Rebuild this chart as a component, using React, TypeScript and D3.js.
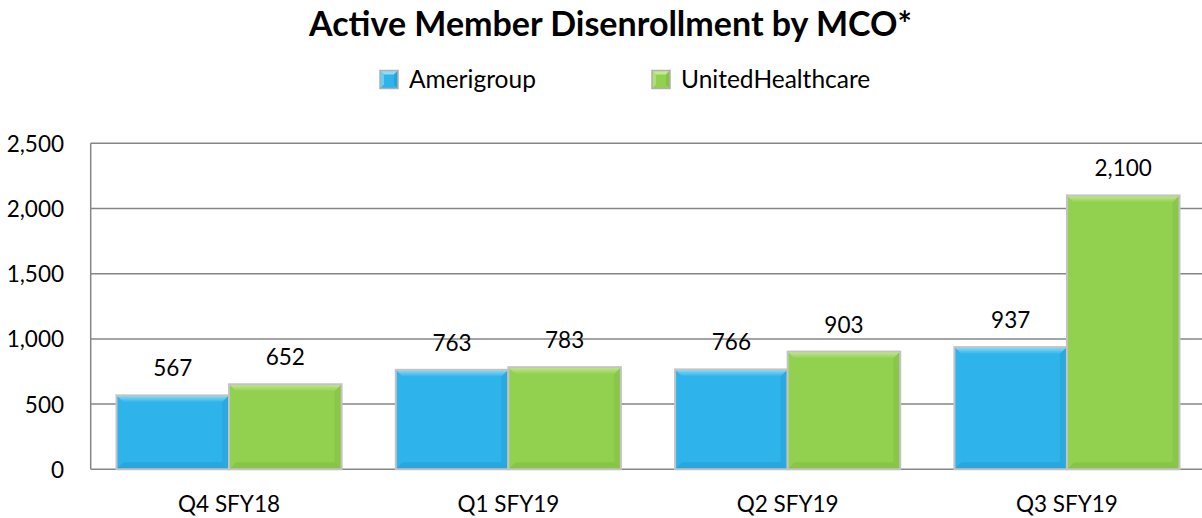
import React from "react";
import * as d3 from "d3";

const categories = ["Q4 SFY18", "Q1 SFY19", "Q2 SFY19", "Q3 SFY19"];
const seriesNames = ["Amerigroup", "UnitedHealthcare"];
const amerigroup = [567, 763, 766, 937];
const unitedHealthcare = [652, 783, 903, 2100];
const yTicks = [0, 500, 1000, 1500, 2000, 2500];

const W = 1202;
const H = 518;
const FONT = "Lato, 'Open Sans', sans-serif";

const colors = [
  { base: "#2eb3eb", light: "#8fdcf8", dark: "#2299cc" },
  { base: "#92d050", light: "#c4ea8e", dark: "#7bb83c" },
];

export default function App() {
  const plotLeft = 90.7;
  const y = d3.scaleLinear().domain([0, 2500]).range([469.3, 143.3]);
  const x0 = d3
    .scaleBand<string>()
    .domain(categories)
    .range([89.4, 89.4 + 279.3 * 4])
    .paddingInner(0.194)
    .paddingOuter(0.097);
  const x1 = d3
    .scaleBand<string>()
    .domain(seriesNames)
    .range([0, x0.bandwidth()])
    .padding(0);
  const fmt = d3.format(",");
  const values = [amerigroup, unitedHealthcare];

  const bevel = 7;

  return (
    <svg
      width={W}
      height={H}
      style={{ position: "absolute", left: 0, top: 0, background: "#fff" }}
      fontFamily={FONT}
    >
      <defs>
        {colors.map((c, i) => (
          <React.Fragment key={i}>
            <linearGradient id={`top${i}`} x1="0" y1="0" x2="0" y2="1">
              <stop offset="0" stopColor={c.light} />
              <stop offset="1" stopColor={c.base} />
            </linearGradient>
          </React.Fragment>
        ))}
      </defs>

      <text
        x={610.5}
        y={35.5}
        textAnchor="middle"
        fontWeight="bold"
        fontSize={34}
        fill="#000"
      >
        Active Member Disenrollment by MCO*
      </text>

      {/* legend */}
      {seriesNames.map((s, i) => {
        const lx = [380, 652][i];
        const ly = 70.5;
        const m = 18;
        const b = 4;
        const col = colors[i];
        return (
          <g key={s}>
            <rect x={lx} y={ly} width={m} height={m} fill={col.base} />
            <polygon
              points={`${lx},${ly} ${lx + m},${ly} ${lx + m - b},${ly + b} ${lx + b},${ly + b}`}
              fill={col.light}
            />
            <polygon
              points={`${lx},${ly} ${lx + b},${ly + b} ${lx + b},${ly + m - b} ${lx},${ly + m}`}
              fill={col.light}
              opacity={0.6}
            />
            <polygon
              points={`${lx + m},${ly} ${lx + m},${ly + m} ${lx + m - b},${ly + m - b} ${lx + m - b},${ly + b}`}
              fill={col.dark}
              opacity={0.6}
            />
            <rect
              x={lx}
              y={ly}
              width={m}
              height={m}
              fill="none"
              stroke="#b0b0b0"
              strokeWidth={1.5}
            />
            <text x={lx + 29} y={88} fontSize={24.5} fill="#000">
              {s}
            </text>
          </g>
        );
      })}

      {/* grid */}
      {yTicks.map((t) => (
        <g key={t}>
          <line
            x1={plotLeft}
            x2={W}
            y1={y(t)}
            y2={y(t)}
            stroke="#868686"
            strokeWidth={1.5}
          />
          <text
            x={64}
            y={y(t) + 8.4}
            textAnchor="end"
            fontSize={22.5}
            fill="#000"
          >
            {fmt(t)}
          </text>
        </g>
      ))}
      <line
        x1={plotLeft}
        x2={plotLeft}
        y1={y(2500)}
        y2={y(0)}
        stroke="#868686"
        strokeWidth={1.5}
      />

      {/* bars */}
      {categories.map((c, ci) => (
        <g key={c} transform={`translate(${x0(c)},0)`}>
          {seriesNames.map((s, si) => {
            const v = values[si][ci];
            const bx = x1(s)!;
            const bw = x1.bandwidth();
            const top = y(v);
            const bot = y(0);
            const col = colors[si];
            return (
              <g key={s}>
                <rect
                  x={bx}
                  y={top}
                  width={bw}
                  height={bot - top}
                  fill={col.base}
                />
                <polygon
                  points={`${bx},${top} ${bx + bw},${top} ${bx + bw - bevel},${top + bevel} ${bx + bevel},${top + bevel}`}
                  fill={`url(#top${si})`}
                />
                <polygon
                  points={`${bx + bw},${top} ${bx + bw},${bot} ${bx + bw - bevel},${bot - bevel} ${bx + bw - bevel},${top + bevel}`}
                  fill={col.dark}
                  opacity={0.35}
                />
                <polygon
                  points={`${bx},${bot} ${bx + bw},${bot} ${bx + bw - bevel},${bot - bevel} ${bx + bevel},${bot - bevel}`}
                  fill={col.dark}
                  opacity={0.45}
                />
                <rect
                  x={bx}
                  y={top}
                  width={bw}
                  height={bot - top}
                  fill="none"
                  stroke="#c3c3c3"
                  strokeWidth={2}
                />
                <text
                  x={bx + bw / 2}
                  y={top - 19}
                  textAnchor="middle"
                  fontSize={22.5}
                  fill="#000"
                >
                  {fmt(v)}
                </text>
              </g>
            );
          })}
          <text
            x={x0.bandwidth() / 2}
            y={511.7}
            textAnchor="middle"
            fontSize={22.5}
            fill="#000"
          >
            {c}
          </text>
        </g>
      ))}
    </svg>
  );
}
